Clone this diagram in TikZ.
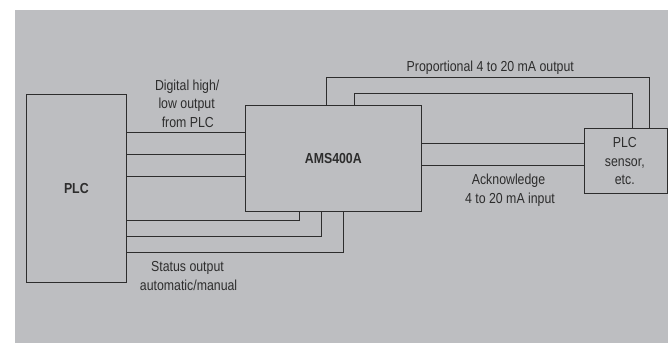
\documentclass[tikz,border=0pt]{standalone}
\usepackage{fontspec}
\setmainfont{Liberation Sans}[FakeStretch=0.85]
\definecolor{bggray}{RGB}{189,190,193}
\definecolor{ink}{RGB}{45,45,45}
\begin{document}
\begin{tikzpicture}[x=1pt,y=-1pt,
  box/.style={draw=ink,line width=0.9pt,inner sep=0pt,text=ink},
  wire/.style={draw=ink,line width=0.9pt},
  lbl/.style={text=ink,inner sep=0pt,anchor=base,font=\fontsize{14.5}{18.7}\selectfont},
  bold/.style={text=ink,font=\fontsize{14.5}{18.7}\selectfont\bfseries}]
\useasboundingbox (0,0) rectangle (668,343);
\fill[bggray] (15,10) rectangle (668,343);
% boxes
\node[box,minimum width=100.7pt,minimum height=188pt,bold] (plc) at (76.35,188.3) {PLC};
\node[box,minimum width=176pt,minimum height=105.3pt,bold] (ams) at (333.3,158.35) {AMS400A};
\node[box,minimum width=83pt,minimum height=65.5pt] (sensor) at (625.5,160.75) {};
% sensor text
\node[lbl] (s1) at (624.8,147.5) {PLC};
\node[lbl] (s2) at (624.8,166.2) {sensor,};
\node[lbl] (s3) at (624.8,184.9) {etc.};
% PLC -> AMS digital lines
\foreach \yy in {132.7,154.3,176.3}
  \draw[wire] (plc.east|-0,\yy) -- (ams.west|-0,\yy);
% status lines
\coordinate (b1) at (299.3,220);
\coordinate (b2) at (321.7,236);
\coordinate (b3) at (343.7,252.3);
\draw[wire] (plc.east|-b1) -- (b1) -- (b1|-ams.south);
\draw[wire] (plc.east|-b2) -- (b2) -- (b2|-ams.south);
\draw[wire] (plc.east|-b3) -- (b3) -- (b3|-ams.south);
% proportional output lines
\coordinate (t1a) at (326,77.7);
\coordinate (t1b) at (649.3,77.7);
\coordinate (t2a) at (354.3,93.7);
\coordinate (t2b) at (632,93.7);
\draw[wire] (t1a|-ams.north) -- (t1a) -- (t1b) -- (t1b|-sensor.north);
\draw[wire] (t2a|-ams.north) -- (t2a) -- (t2b) -- (t2b|-sensor.north);
% acknowledge lines
\foreach \yy in {143.3,165.7}
  \draw[wire] (ams.east|-0,\yy) -- (sensor.west|-0,\yy);
% labels
\node[lbl] (d1) at (187.2,90) {Digital high/};
\node[lbl] (d2) at (186.6,108.7) {low output};
\node[lbl] (d3) at (187.8,127.4) {from PLC};
\node[lbl] (st1) at (187.5,271.7) {Status output};
\node[lbl] (st2) at (188.6,290.5) {automatic/manual};
\node[lbl] (prop) at (490.3,71.7) {Proportional 4 to 20 mA output};
\node[lbl] (ack1) at (508.5,184.5) {Acknowledge};
\node[lbl] (ack2) at (510,203.2) {4 to 20 mA input};
\end{tikzpicture}
\end{document}
